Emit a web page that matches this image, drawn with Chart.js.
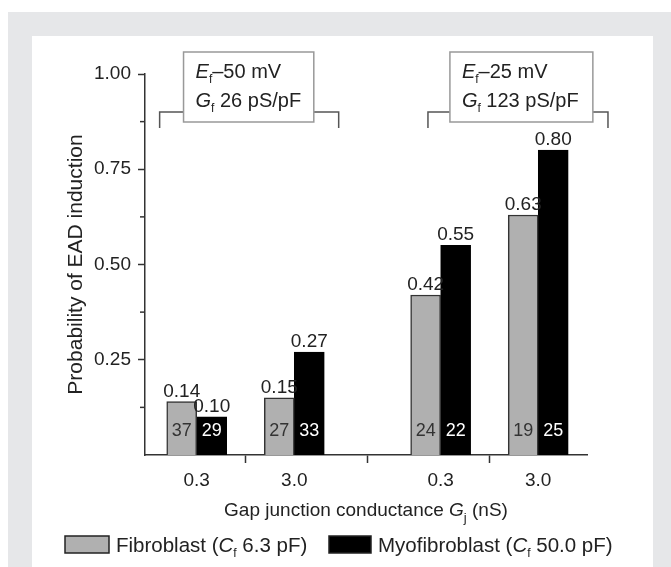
<!DOCTYPE html>
<html lang="en">
<head>
<meta charset="UTF-8">
<title>Probability of EAD induction</title>
<script src="https://cdn.jsdelivr.net/npm/chart.js"></script>
<style>
  html, body { margin: 0; padding: 0; background: #fff; }
  body { width: 671px; height: 567px; position: relative; overflow: hidden; }
  .frame { position: absolute; left: 8px; top: 12px; right: 0; bottom: 0; background: #e6e7e9; }
  .panel { position: absolute; left: 32px; top: 36px; width: 621px; bottom: 0; background: #fff; }
  canvas { position: absolute; left: 0; top: 0; }
</style>
</head>
<body>
<div class="frame"></div>
<div class="panel"></div>
<canvas id="eadChart" width="671" height="567"></canvas>
<script>
// data
const categories = ['0.3', '3.0', '0.3', '3.0'];
const fibroblast = [0.14, 0.15, 0.42, 0.63];
const myofibroblast = [0.10, 0.27, 0.55, 0.80];
const fibroblastCounts = [37, 27, 24, 19];
const myofibroblastCounts = [29, 33, 22, 25];
const yTickValues = [0.25, 0.5, 0.75, 1.0];
const yMinorTicks = [0.125, 0.375, 0.625, 0.875];
const seriesNames = ['Fibroblast', 'Myofibroblast'];
const capacitances = ['6.3 pF', '50.0 pF'];
const restingPotentials = ['–50 mV', '–25 mV'];
const conductanceDensities = ['26 pS/pF', '123 pS/pF'];

const FAMILY = "'Liberation Sans', Arial, sans-serif";
const TEXT = '#222';
const normal = s => s + 'px ' + FAMILY;
const italic = s => 'italic ' + s + 'px ' + FAMILY;

Chart.defaults.font.family = FAMILY;
Chart.defaults.color = TEXT;

// two conductance values per condition, with a wider gap between the two conditions
const groupX = categories.map((c, i) => 2 * i + 1 + (i >= 2 ? 1 : 0));
const boundaryX = groupX.slice(1).map((x, i) => (x + groupX[i]) / 2);

function drawRuns(ctx, x, y, runs) {
  runs.forEach(r => {
    ctx.font = r.font;
    ctx.fillText(r.text, x, y + (r.dy || 0));
    x += ctx.measureText(r.text).width;
  });
}
function runsWidth(ctx, runs) {
  let w = 0;
  runs.forEach(r => { ctx.font = r.font; w += ctx.measureText(r.text).width; });
  return w;
}

const decorations = {
  id: 'decorations',
  afterDraw(chart) {
    const { ctx, chartArea } = chart;
    const xs = chart.scales.x, ys = chart.scales.y;
    ctx.save();

    // minor y ticks
    ctx.strokeStyle = '#333';
    ctx.lineWidth = 1.5;
    yMinorTicks.forEach(v => {
      const y = ys.getPixelForValue(v);
      ctx.beginPath();
      ctx.moveTo(chartArea.left - 5, y);
      ctx.lineTo(chartArea.left, y);
      ctx.stroke();
    });

    // value labels above bars, counts inside bars
    const base = ys.getPixelForValue(0);
    chart.data.datasets.forEach((ds, di) => {
      chart.getDatasetMeta(di).data.forEach((bar, i) => {
        ctx.fillStyle = TEXT;
        ctx.font = normal(19);
        ctx.textAlign = 'center';
        ctx.textBaseline = 'alphabetic';
        ctx.fillText(ds.data[i].y.toFixed(2), bar.x, bar.y - 5);
        ctx.fillStyle = ds.countColor;
        ctx.font = normal(18);
        ctx.textBaseline = 'middle';
        ctx.fillText(String(ds.counts[i]), bar.x, base - 24);
      });
    });

    // condition brackets and boxes
    const bracketSpans = [[0.24, 3.91], [5.74, 9.43]];
    const boxSpans = [[0.73, 3.40], [6.19, 9.12]];
    const bracketY = 112, bracketFoot = 128, boxTop = 52, boxBottom = 122;
    ctx.textAlign = 'left';
    ctx.textBaseline = 'alphabetic';
    bracketSpans.forEach((span, k) => {
      const x0 = xs.getPixelForValue(span[0]), x1 = xs.getPixelForValue(span[1]);
      const b0 = xs.getPixelForValue(boxSpans[k][0]), b1 = xs.getPixelForValue(boxSpans[k][1]);
      ctx.strokeStyle = '#555';
      ctx.lineWidth = 1.5;
      ctx.beginPath();
      ctx.moveTo(x0, bracketFoot); ctx.lineTo(x0, bracketY); ctx.lineTo(b0, bracketY);
      ctx.moveTo(b1, bracketY); ctx.lineTo(x1, bracketY); ctx.lineTo(x1, bracketFoot);
      ctx.stroke();
      ctx.fillStyle = '#fff';
      ctx.fillRect(b0, boxTop, b1 - b0, boxBottom - boxTop);
      ctx.strokeStyle = '#999';
      ctx.strokeRect(b0, boxTop, b1 - b0, boxBottom - boxTop);
      ctx.fillStyle = TEXT;
      drawRuns(ctx, b0 + 12, 78, [
        { text: 'E', font: italic(20) },
        { text: 'f', font: normal(12), dy: 5 },
        { text: '–' + restingPotentials[k].slice(1), font: normal(20) }
      ]);
      drawRuns(ctx, b0 + 12, 107, [
        { text: 'G', font: italic(20) },
        { text: 'f', font: normal(12), dy: 5 },
        { text: ' ' + conductanceDensities[k], font: normal(20) }
      ]);
    });

    // x axis title
    const titleRuns = [
      { text: 'Gap junction conductance ', font: normal(19) },
      { text: 'G', font: italic(19) },
      { text: 'j', font: normal(13), dy: 6 },
      { text: ' (nS)', font: normal(19) }
    ];
    const cx = (chartArea.left + chartArea.right) / 2;
    ctx.fillStyle = TEXT;
    drawRuns(ctx, cx - runsWidth(ctx, titleRuns) / 2, 516, titleRuns);

    // legend
    const legendBoxes = [[65, 536, 44, 17], [329, 536, 42, 17]];
    const legendTextX = [116, 378];
    chart.data.datasets.forEach((ds, di) => {
      const [bx, by, bw, bh] = legendBoxes[di];
      ctx.fillStyle = ds.backgroundColor;
      ctx.fillRect(bx, by, bw, bh);
      ctx.strokeStyle = '#222';
      ctx.lineWidth = 1.5;
      ctx.strokeRect(bx, by, bw, bh);
      ctx.fillStyle = TEXT;
      drawRuns(ctx, legendTextX[di], 552, [
        { text: seriesNames[di] + ' (', font: normal(20.5) },
        { text: 'C', font: italic(20.5) },
        { text: 'f', font: normal(12), dy: 5 },
        { text: ' ' + capacitances[di] + ')', font: normal(20.5) }
      ]);
    });
    ctx.restore();
  }
};

new Chart(document.getElementById('eadChart'), {
  type: 'bar',
  data: {
    datasets: [
      {
        label: seriesNames[0],
        data: fibroblast.map((v, i) => ({ x: groupX[i], y: v })),
        backgroundColor: '#b0b0b0',
        borderColor: '#333',
        borderWidth: 1.5,
        counts: fibroblastCounts,
        countColor: '#333'
      },
      {
        label: seriesNames[1],
        data: myofibroblast.map((v, i) => ({ x: groupX[i], y: v })),
        backgroundColor: '#000',
        borderColor: '#000',
        borderWidth: 1.5,
        counts: myofibroblastCounts,
        countColor: '#fff'
      }
    ]
  },
  options: {
    responsive: false,
    animation: false,
    layout: { padding: { left: 52, top: 74, right: 84, bottom: 72 } },
    datasets: { bar: { barThickness: 30 } },
    plugins: { legend: { display: false }, tooltip: { enabled: false } },
    scales: {
      x: {
        type: 'linear',
        min: -0.06,
        max: 9,
        offset: false,
        afterBuildTicks: s => {
          s.ticks = groupX.concat(boundaryX).sort((a, b) => a - b).map(v => ({ value: v }));
        },
        afterFit: s => { s.height = 40; },
        ticks: {
          autoSkip: false,
          maxRotation: 0,
          padding: 6,
          color: TEXT,
          font: { size: 19 },
          callback: v => {
            const i = groupX.indexOf(v);
            return i >= 0 ? categories[i] : '';
          }
        },
        grid: {
          drawOnChartArea: false,
          offset: false,
          tickLength: 8,
          tickWidth: 1.5,
          tickColor: c => (c.tick && groupX.includes(c.tick.value)) ? 'rgba(0,0,0,0)' : '#333'
        },
        border: { color: '#333', width: 1.5 }
      },
      y: {
        min: 0,
        max: 1,
        afterBuildTicks: s => { s.ticks = yTickValues.map(v => ({ value: v })); },
        afterFit: s => { s.width = 93; },
        ticks: { padding: 7, color: TEXT, font: { size: 19 }, callback: v => v.toFixed(2) },
        grid: { drawOnChartArea: false, tickLength: 7, tickWidth: 1.5, tickColor: '#333' },
        border: { color: '#333', width: 1.5 },
        title: {
          display: true,
          text: 'Probability of EAD induction',
          color: TEXT,
          font: { size: 21 },
          padding: { top: 12, bottom: 0 }
        }
      }
    }
  },
  plugins: [decorations]
});
</script>
</body>
</html>
